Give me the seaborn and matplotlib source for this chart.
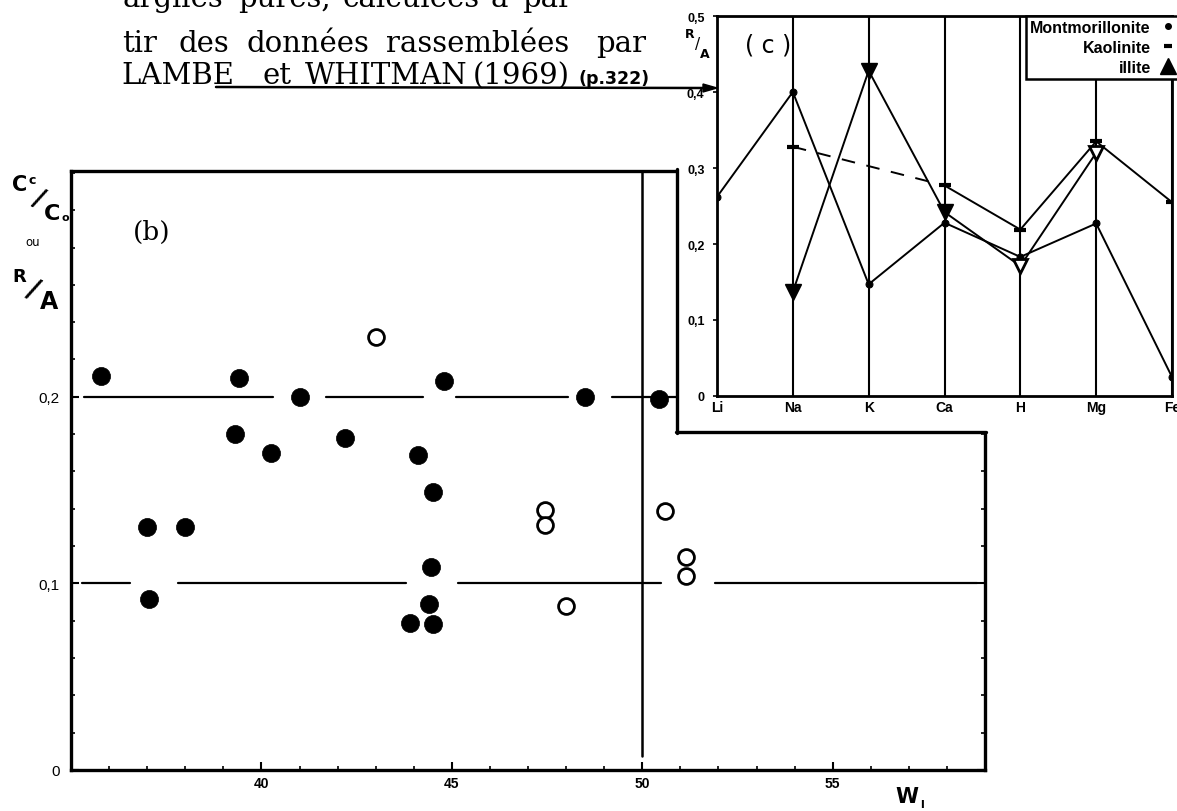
import numpy as np
import pandas as pd
import matplotlib
matplotlib.use("Agg")
import matplotlib.pyplot as plt
import seaborn as sns
from matplotlib.lines import Line2D
from matplotlib.patches import Rectangle
from matplotlib.ticker import MultipleLocator, FixedLocator

# ---------------- data: panel (b) ----------------
filled_wl = [35.8, 37.0, 37.05, 38.0, 39.3, 39.4, 40.25, 41.0, 42.2, 43.9,
             44.1, 44.4, 44.45, 44.5, 44.5, 44.8, 48.5, 50.45]
filled_ratio = [0.211, 0.130, 0.0915, 0.130, 0.180, 0.210, 0.170, 0.200, 0.178, 0.079,
                0.169, 0.089, 0.109, 0.149, 0.0785, 0.2085, 0.200, 0.199]
open_wl = [43.0, 47.45, 47.45, 48.0, 50.6, 51.15, 51.15]
open_ratio = [0.232, 0.1395, 0.1315, 0.088, 0.139, 0.114, 0.104]

xticks_b = [40, 45, 50, 55]
yticks_b = [0.0, 0.1, 0.2]
ytick_labels_b = ["0", "0,1", "0,2"]
ref_02_segments = [(35.35, 40.3), (41.7, 44.25), (45.1, 48.05), (49.2, 50.9)]
ref_01_segments = [(35.3, 36.55), (37.8, 43.8), (45.15, 50.5), (51.9, 58.8)]
wl_limit = 50

# ---------------- data: panel (c) ----------------
ions = ["Li", "Na", "K", "Ca", "H", "Mg", "Fe"]
mont_ions = ["Li", "Na", "K", "Ca", "H", "Mg", "Fe"]
mont_ratio = [0.262, 0.400, 0.147, 0.228, 0.183, 0.227, 0.025]
kaol_ions = ["Na", "Ca", "H", "Mg", "Fe"]
kaol_ratio = [0.328, 0.277, 0.219, 0.335, 0.255]
illite_ions = ["Na", "K", "Ca", "H", "Mg"]
illite_ratio = [0.137, 0.428, 0.242, 0.171, 0.320]
yticks_c = [0.0, 0.1, 0.2, 0.3, 0.4, 0.5]
ytick_labels_c = ["0", "0,1", "0,2", "0,3", "0,4", "0,5"]

# ---------------- heading words ----------------
heading_lines = [
    ["argiles", "pures,", "calculées", "à", "par-"],
    ["tir", "des", "données", "rassemblées", "par"],
    ["LAMBE", "et", "WHITMAN", "(1969)"],
]

sns.set_theme(style="white")
plt.rcParams['font.family'] = ['DejaVu Sans']
for key in ["text.color", "axes.labelcolor", "xtick.color", "ytick.color", "axes.edgecolor"]:
    plt.rcParams[key] = "black"

W, H = 1177, 812
fig = plt.figure(figsize=(W / 100, H / 100), dpi=100)
fig.patch.set_facecolor("white")

def fx(px):
    return px / W

def fy(py):
    return 1 - py / H

# ---------------- main axes (b) ----------------
ax = fig.add_axes([fx(71), fy(771), fx(985) - fx(71), fy(172) - fy(771)])
ax.set_zorder(0)
ax.set_xlim(35, 59)
ax.set_ylim(0, 0.321)

for (a, b) in ref_02_segments:
    ax.plot([a, b], [0.2, 0.2], color="black", lw=1.6, zorder=1)
for (a, b) in ref_01_segments:
    ax.plot([a, b], [0.1, 0.1], color="black", lw=1.6, zorder=1)
ax.plot([wl_limit, wl_limit], [0.0075, 0.321], color="black", lw=1.8, zorder=1)

df_f = pd.DataFrame({"wl": filled_wl, "r": filled_ratio})
df_o = pd.DataFrame({"wl": open_wl, "r": open_ratio})
sns.scatterplot(data=df_f, x="wl", y="r", ax=ax, s=170, color="black",
                edgecolor="black", linewidth=0.5, zorder=3)
sns.scatterplot(data=df_o, x="wl", y="r", ax=ax, s=130, facecolor="white",
                edgecolor="black", linewidth=2.0, zorder=3)

ax.set_xlabel("")
ax.set_ylabel("")
ax.xaxis.set_major_locator(FixedLocator(xticks_b))
ax.xaxis.set_minor_locator(MultipleLocator(1))
ax.yaxis.set_major_locator(FixedLocator(yticks_b))
ax.yaxis.set_minor_locator(MultipleLocator(0.02))
ax.set_xticklabels([str(v) for v in xticks_b], fontsize=10, fontweight="bold",
                   family="Liberation Sans")
ax.set_yticklabels(ytick_labels_b, fontsize=11, family="Liberation Sans")
ax.tick_params(axis="both", which="major", direction="in", length=6, width=1.5,
               colors="black", pad=4)
ax.tick_params(axis="both", which="minor", direction="in", length=3, width=1.2,
               colors="black")
ax.tick_params(axis="y", which="both", right=True, left=True)
ax.tick_params(axis="x", which="both", bottom=True)
ax.tick_params(axis="y", which="major", pad=8)
for sp in ax.spines.values():
    sp.set_color("black")
    sp.set_linewidth(2.4)

# white box behind the inset
fig.add_artist(Rectangle((fx(677), fy(433)), fx(990) - fx(677), fy(168) - fy(433),
                         transform=fig.transFigure, facecolor="white",
                         edgecolor="none", zorder=1))
fig.add_artist(Line2D([fx(677), fx(677)], [fy(170), fy(434)], color="black", lw=2.4,
                      transform=fig.transFigure, zorder=1.1))
fig.add_artist(Line2D([fx(676), fx(986)], [fy(433), fy(433)], color="black", lw=2.4,
                      transform=fig.transFigure, zorder=1.1))

# texts of panel (b)
fig.text(fx(152), fy(232), "(b)", fontsize=19, family="DejaVu Serif", va="center", ha="center")
fig.text(fx(907), fy(797), "W", fontsize=15, fontweight="bold", ha="center", va="center")
fig.text(fx(922), fy(805), "l", fontsize=8, fontweight="bold", ha="center", va="center")
fig.text(fx(20), fy(185), "C", fontsize=15, fontweight="bold", ha="center", va="center")
fig.text(fx(32), fy(180), "c", fontsize=9, fontweight="bold", ha="center", va="center")
fig.text(fx(38), fy(200), "/", fontsize=19, fontweight="bold", ha="center", va="center", rotation=-25)
fig.text(fx(52), fy(214), "C", fontsize=16, fontweight="bold", ha="center", va="center")
fig.text(fx(65), fy(218), "o", fontsize=8, fontweight="bold", ha="center", va="center")
fig.text(fx(33), fy(243), "ou", fontsize=8.5, ha="center", va="center")
fig.text(fx(19), fy(277), "R", fontsize=13, fontweight="bold", ha="center", va="center")
fig.text(fx(33), fy(290), "/", fontsize=20, fontweight="bold", ha="center", va="center", rotation=-25)
fig.text(fx(49), fy(302), "A", fontsize=17, fontweight="bold", ha="center", va="center")

# ---------------- inset (c) ----------------
axc = fig.add_axes([fx(717), fy(397), fx(1172) - fx(717), fy(17) - fy(397)])
axc.set_zorder(2)
axc.set_facecolor("white")
pos = {k: i for i, k in enumerate(ions)}
axc.set_xlim(0, 6)
axc.set_ylim(0, 0.5)
for k in ions[1:]:
    axc.plot([pos[k], pos[k]], [0, 0.5], color="black", lw=1.5, zorder=1)

df_m = pd.DataFrame({"x": [pos[k] for k in mont_ions], "y": mont_ratio})
sns.lineplot(data=df_m, x="x", y="y", ax=axc, color="black", lw=1.4,
             marker="o", markersize=5, markeredgecolor="black", zorder=3)

kx = [pos[k] for k in kaol_ions]
df_k1 = pd.DataFrame({"x": kx[:2], "y": kaol_ratio[:2]})
df_k2 = pd.DataFrame({"x": kx[1:], "y": kaol_ratio[1:]})
sns.lineplot(data=df_k1, x="x", y="y", ax=axc, color="black", lw=1.4,
             linestyle=(0, (7, 6)), zorder=3)
sns.lineplot(data=df_k2, x="x", y="y", ax=axc, color="black", lw=1.4, zorder=3)
axc.plot(kx, kaol_ratio, linestyle="none", marker="_", markersize=8,
         markeredgewidth=3, color="black", zorder=4)

ix = [pos[k] for k in illite_ions]
df_i = pd.DataFrame({"x": ix, "y": illite_ratio})
sns.lineplot(data=df_i, x="x", y="y", ax=axc, color="black", lw=1.4, zorder=3)
axc.plot(ix[:3], illite_ratio[:3], linestyle="none", marker="v", markersize=11,
         color="black", zorder=5)
axc.plot(ix[3:], illite_ratio[3:], linestyle="none", marker="v", markersize=10,
         markerfacecolor="white", markeredgecolor="black", markeredgewidth=2, zorder=5)

axc.set_xlabel("")
axc.set_ylabel("")
axc.set_xticks(range(len(ions)))
axc.set_xticklabels(ions, fontsize=10, fontweight="bold", family="Liberation Sans")
axc.set_yticks(yticks_c)
axc.set_yticklabels(ytick_labels_c, fontsize=9, fontweight="bold", family="Liberation Sans")
axc.tick_params(axis="x", length=0, pad=3, colors="black")
axc.tick_params(axis="y", direction="out", length=3, width=1.2, pad=6, colors="black", left=True)
for sp in axc.spines.values():
    sp.set_color("black")
    sp.set_linewidth(2.0)

handles = [Line2D([], [], linestyle="none", marker="o", markersize=4, color="black"),
           Line2D([], [], linestyle="none", marker="_", markersize=6, markeredgewidth=3, color="black"),
           Line2D([], [], linestyle="none", marker="^", markersize=11, color="black")]
leg = axc.legend(handles, ["Montmorillonite", "Kaolinite", "illite"], markerfirst=False,
                 loc="upper right", bbox_to_anchor=(1.015, 1.0), frameon=True, fancybox=False,
                 edgecolor="black", framealpha=1, borderpad=0.25, handlelength=0.9,
                 handletextpad=0.6, labelspacing=0.3, borderaxespad=0.0,
                 prop={"size": 11.5, "weight": "bold", "family": "Liberation Sans"})
leg.get_frame().set_linewidth(1.8)
leg.set_zorder(10)

fig.text(fx(768), fy(45), "( c )", fontsize=17, family="DejaVu Sans", ha="center", va="center")
fig.text(fx(690), fy(35), "R", fontsize=9, fontweight="bold", ha="center", va="center")
fig.text(fx(698), fy(45), "/", fontsize=11, ha="center", va="center")
fig.text(fx(705), fy(54), "A", fontsize=9, fontweight="bold", ha="center", va="center")

# ---------------- heading text and arrow ----------------
heading_x = [
    [122, 238, 343, 490, 522],
    [122, 178, 246, 386, 596],
    [121, 262, 305, 473],
]
heading_base = [7, 52, 84]
for words, xs, yb in zip(heading_lines, heading_x, heading_base):
    for wd, x0 in zip(words, xs):
        fig.text(fx(x0), fy(yb), wd, fontsize=21, family="DejaVu Serif",
                 va="baseline", ha="left")
fig.text(fx(578), fy(84), "(p.322)", fontsize=12.5, fontweight="bold",
         family="DejaVu Sans", va="baseline", ha="left")
fig.add_artist(Line2D([fx(216), fx(705)], [fy(88), fy(89)], color="black", lw=1.8,
                      transform=fig.transFigure))
fig.add_artist(plt.Polygon([[fx(703), fy(85)], [fx(717), fy(89)], [fx(703), fy(93)]],
                           closed=True, color="black", transform=fig.transFigure))

fig.savefig("out.png", dpi=100)
